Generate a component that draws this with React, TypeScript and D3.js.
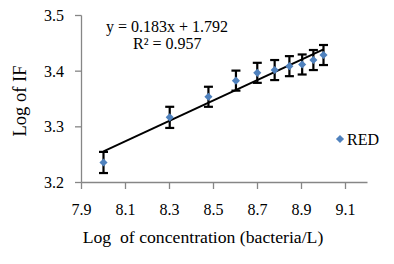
import React from "react";
import * as d3 from "d3";

const concentration = [8.0, 8.301, 8.477, 8.602, 8.699, 8.778, 8.845, 8.903, 8.954, 9.0];
const logIF = [3.236, 3.317, 3.354, 3.383, 3.397, 3.402, 3.409, 3.412, 3.42, 3.429];
const errors = [0.019, 0.019, 0.018, 0.018, 0.018, 0.018, 0.018, 0.018, 0.018, 0.018];
const xTicks = [7.9, 8.1, 8.3, 8.5, 8.7, 8.9, 9.1];
const yTicks = [3.2, 3.3, 3.4, 3.5];
const slope = 0.183;
const intercept = 1.792;
const seriesName = "RED";

export default function App() {
  const x = d3.scaleLinear().domain([7.9, 9.2]).range([81.5, 367.5]);
  const y = d3.scaleLinear().domain([3.2, 3.5]).range([182.5, 15.5]);
  const diamond = d3.symbol().type(d3.symbolDiamond2).size(42)();
  const trendX = [8.0, 9.0];
  const line = d3
    .line<number>()
    .x((d) => x(d))
    .y((d) => y(slope * d + intercept));
  const axisColor = "#868686";
  const blue = "#4F81BD";
  const ts: React.CSSProperties = { fontFamily: "Liberation Serif", fontSize: 16 };
  return (
    <svg width={394} height={264} style={{ position: "absolute", left: 0, top: 0, background: "#fff" }}>
      {/* y axis */}
      <line x1={81.5} x2={81.5} y1={y(3.5)} y2={y(3.2)} stroke={axisColor} strokeWidth={1.3} />
      {yTicks.map((t) => (
        <g key={"y" + t}>
          <line x1={75} x2={81.5} y1={y(t)} y2={y(t)} stroke={axisColor} strokeWidth={1.3} />
          <text x={64} y={y(t) + 5.5} textAnchor="end" style={ts} fill="#000">
            {t.toFixed(1)}
          </text>
        </g>
      ))}
      {/* x axis */}
      <line x1={81.5} x2={367.5} y1={182.5} y2={182.5} stroke={axisColor} strokeWidth={1.3} />
      {xTicks.map((t) => (
        <g key={"x" + t}>
          <line x1={x(t)} x2={x(t)} y1={182.5} y2={189} stroke={axisColor} strokeWidth={1.3} />
          <text x={x(t)} y={215} textAnchor="middle" style={ts} fill="#000">
            {t.toFixed(1)}
          </text>
        </g>
      ))}
      {/* trendline */}
      <path d={line(trendX) || ""} stroke="#000" strokeWidth={2} fill="none" />
      {/* error bars */}
      {concentration.map((c, i) => {
        const cx = x(c);
        const top = y(logIF[i] + errors[i]);
        const bot = y(logIF[i] - errors[i]);
        return (
          <g key={"e" + i} stroke="#000" strokeWidth={2.2}>
            <line x1={cx} x2={cx} y1={top} y2={bot} />
            <line x1={cx - 4.5} x2={cx + 4.5} y1={top} y2={top} />
            <line x1={cx - 4.5} x2={cx + 4.5} y1={bot} y2={bot} />
          </g>
        );
      })}
      {/* points */}
      {concentration.map((c, i) => (
        <path key={"p" + i} d={diamond} transform={`translate(${x(c)},${y(logIF[i])})`} fill={blue} />
      ))}
      {/* equation */}
      <text x={106} y={32} style={ts} fill="#000">
        y = 0.183x + 1.792
      </text>
      <text x={133} y={49} style={ts} fill="#000">
        R² = 0.957
      </text>
      {/* legend */}
      <path d={diamond} transform="translate(340,139)" fill={blue} />
      <text x={347} y={145} style={ts} fill="#000">
        {seriesName}
      </text>
      {/* axis titles */}
      <text
        transform="translate(26,101) rotate(-90)"
        textAnchor="middle"
        style={{ fontFamily: "Liberation Serif", fontSize: 18.5 }}
        fill="#000"
      >
        Log of IF
      </text>
      <text
        x={203}
        y={243}
        textAnchor="middle"
        style={{ fontFamily: "Liberation Serif", fontSize: 17.7, whiteSpace: "pre" }}
        fill="#000"
      >
        {"Log  of concentration (bacteria/L)"}
      </text>
    </svg>
  );
}
